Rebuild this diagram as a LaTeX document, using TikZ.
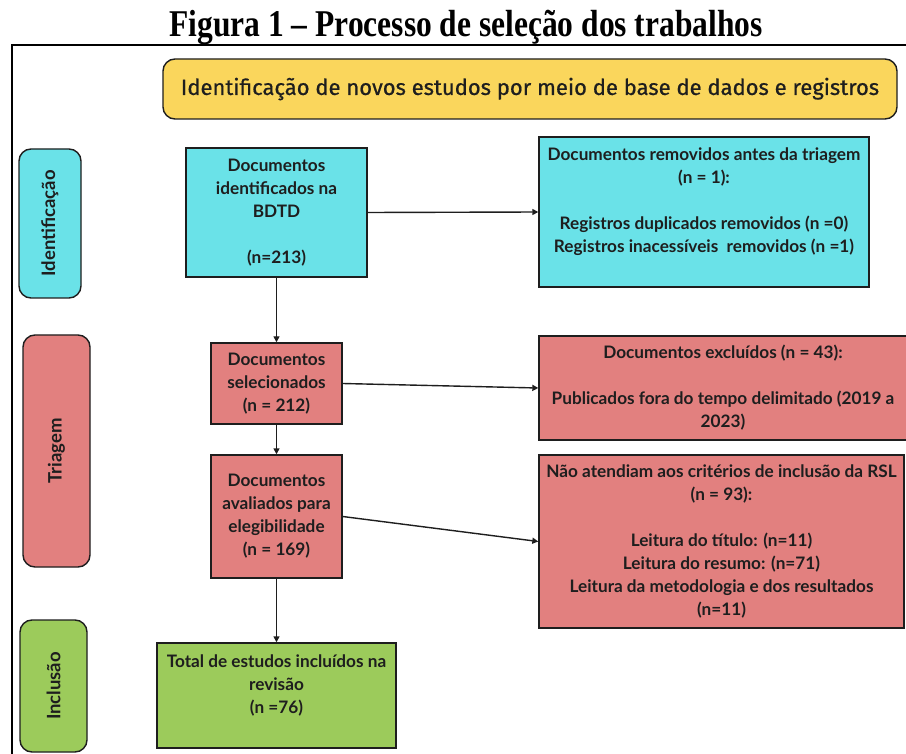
\documentclass[tikz,border=0pt]{standalone}
\usepackage{fontspec}
\setmainfont{Lato}
\newfontfamily\titlefont{Liberation Serif}
\newfontfamily\headfont[FakeBold=0.7]{Fira Sans}
\usetikzlibrary{arrows.meta}
\definecolor{cy}{HTML}{6AE2E8}
\definecolor{pk}{HTML}{E2807F}
\definecolor{gr}{HTML}{9CCB5B}
\definecolor{ye}{HTML}{FAD65C}
\definecolor{ink}{HTML}{1E1E1E}
\tikzset{
  box/.style={draw=ink, line width=1.4pt, inner sep=0pt, align=center,
    text=ink, font=\bfseries\fontsize{17.2}{23}\selectfont},
  side/.style={draw=ink, line width=1.4pt, rounded corners=12pt, inner sep=0pt},
  sidetext/.style={rotate=90, text=ink, font=\bfseries\fontsize{18.5}{20}\selectfont},
  arr/.style={draw=ink, line width=1.4pt, -{Triangle[length=6pt,width=6pt]}},
}
\begin{document}
\begin{tikzpicture}[x=1pt,y=-1pt]
\useasboundingbox (0,0) rectangle (906,754);
\fill[white] (0,0) rectangle (906,754);
% title
\node[font=\titlefont\bfseries\fontsize{31.5}{32}\selectfont] (title) at (466,28)
  {\scalebox{1}[1.2]{Figura 1 – Processo de seleção dos trabalhos}};
% frame
\draw[line width=2.6pt] (12,756) -- (12,45) -- (908,45);
% header
\node[draw=ink, line width=1.4pt, rounded corners=12pt, fill=ye, minimum width=734, minimum height=60,
  font=\headfont\fontsize{22}{24}\selectfont, text=ink] (head) at (530,89)
  {Identificação de novos estudos por meio de base de dados e registros};
% side labels
\node[side, fill=cy, minimum width=62, minimum height=149] (sid) at (50,223.5) {};
\node[sidetext] (sidt) at (sid.center) {Identificação};
\node[side, fill=pk, minimum width=67, minimum height=232] (str) at (56.5,451) {};
\node[sidetext] (strt) at (str.center) {Triagem};
\node[side, fill=gr, minimum width=67, minimum height=132] (sin) at (53.5,686) {};
\node[sidetext] (sint) at (sin.center) {Inclusão};
% main boxes
\node[box, fill=cy, minimum width=181, minimum height=129] (bdtd) at (276.5,212.5)
  {Documentos\\identificados na\\BDTD\\ \\(n=213)};
\node[box, fill=cy, minimum width=330, minimum height=150] (rem) at (704,212)
  {Documentos removidos antes da triagem\\(n = 1):\\ \\Registros duplicados removidos (n =0)\\Registros inacessíveis\ \ removidos (n =1)\\ };
\node[box, fill=pk, minimum width=131, minimum height=81] (sel) at (276.5,383.5)
  {Documentos\\selecionados\\(n = 212)};
\node[box, fill=pk, minimum width=368, minimum height=104] (exc) at (723,388)
  {Documentos excluídos (n = 43):\\ \\Publicados fora do tempo delimitado (2019 a\\2023)};
\node[box, fill=pk, minimum width=131, minimum height=123] (aval) at (276.5,516.5)
  {Documentos\\avaliados para\\elegibilidade\\(n = 169)};
\node[box, fill=pk, minimum width=365, minimum height=173] (nao) at (721.5,541.5)
  {Não atendiam aos critérios de inclusão da RSL\\(n = 93):\\ \\Leitura do título: (n=11)\\Leitura do resumo: (n=71)\\Leitura da metodologia e dos resultados\\(n=11)};
\node[box, fill=gr, minimum width=239, minimum height=105] (tot) at (276.5,695.5)
  {Total de estudos incluídos na\\revisão\\(n =76)\\ };
% arrows
\draw[arr] (bdtd.east) -- (rem.west);
\draw[arr] (bdtd.south) -- (sel.north);
\draw[arr] (sel.east) -- (exc.west);
\draw[arr] (sel.south) -- (aval.north);
\draw[arr] (aval.east) -- (nao.west);
\draw[arr] (aval.south) -- (tot.north);
\end{tikzpicture}
\end{document}
